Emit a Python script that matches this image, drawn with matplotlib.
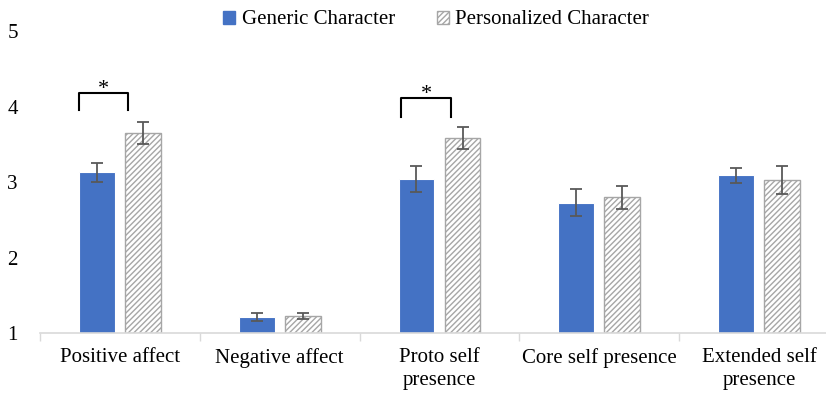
import numpy as np
import matplotlib.pyplot as plt
from matplotlib.patches import Patch
from matplotlib.ticker import FixedLocator

plt.rcParams['font.family'] = ['Liberation Serif', 'DejaVu Serif']
plt.rcParams['hatch.linewidth'] = 1.0

categories = ["Positive affect", "Negative affect", "Proto self\npresence",
              "Core self presence", "Extended self\npresence"]
generic = [3.13, 1.21, 3.04, 2.73, 3.09]
generic_err = [0.13, 0.05, 0.17, 0.18, 0.105]
personal = [3.65, 1.22, 3.59, 2.80, 3.03]
personal_err = [0.145, 0.04, 0.145, 0.155, 0.19]
# significance brackets: (category index, left leg, right leg, top, bottom of legs)
brackets = [(0, -0.256, 0.048, 4.19, 3.96), (2, -0.238, 0.073, 4.12, 3.86)]

blue = "#4472c4"
grey = "#a6a6a6"
err_col = "#595959"
fs = 15

fig = plt.figure(figsize=(8.26, 3.96), dpi=100)
ax = fig.add_axes([40 / 826, 63 / 396, 799 / 826, 301.5 / 396])

x = np.arange(len(categories))
off = 0.144
w = 0.225

ax.bar(x - off, [v - 1 for v in generic], w, bottom=1, color=blue, edgecolor="white", linewidth=0.8, zorder=2)
ax.bar(x + off, [v - 1 for v in personal], w, bottom=1, color="white", edgecolor=grey,
       hatch="//////", linewidth=1.0, zorder=2)
ax.errorbar(x - off, generic, yerr=generic_err, fmt="none", ecolor=err_col, elinewidth=1.3, capsize=4, capthick=1.3, zorder=3)
ax.errorbar(x + off, personal, yerr=personal_err, fmt="none", ecolor=err_col, elinewidth=1.3, capsize=4, capthick=1.3, zorder=3)

for i, left, right, top, bot in brackets:
    xs = [i + left, i + left, i + right, i + right]
    ax.plot(xs, [bot, top, top, bot], color="black", lw=1.5, solid_joinstyle="round", zorder=3)
    ax.text(i + (left + right) / 2, top + 0.04, "*", ha="center", va="center", fontsize=16)

ax.set_xlim(-0.5, len(categories) - 0.5)
ax.set_ylim(1, 5)
ax.set_yticks([1, 2, 3, 4, 5])
ax.tick_params(axis="y", length=0, labelsize=fs, pad=16)
ax.set_xticks(x)
ax.set_xticklabels(categories, fontsize=fs, linespacing=1.3)
ax.tick_params(axis="x", which="major", length=0, pad=11)
ax.xaxis.set_minor_locator(FixedLocator(np.arange(-0.5, len(categories) + 0.5, 1)))
ax.tick_params(axis="x", which="minor", length=6, color="#d9d9d9", width=1)

for s in ["top", "right", "left"]:
    ax.spines[s].set_visible(False)
ax.spines["bottom"].set_color("#d9d9d9")
ax.spines["bottom"].set_linewidth(1.2)

handles = [Patch(facecolor=blue, edgecolor=blue, label="Generic Character"),
           Patch(facecolor="white", edgecolor=grey, hatch="//////", label="Personalized Character")]
fig.legend(handles=handles, loc="center", bbox_to_anchor=(436 / 826, 1 - 20 / 396), ncol=2, frameon=False,
           fontsize=fs, handlelength=0.6, handleheight=0.6, handletextpad=0.3, columnspacing=2.0)

fig.savefig("out.png", dpi=100)
